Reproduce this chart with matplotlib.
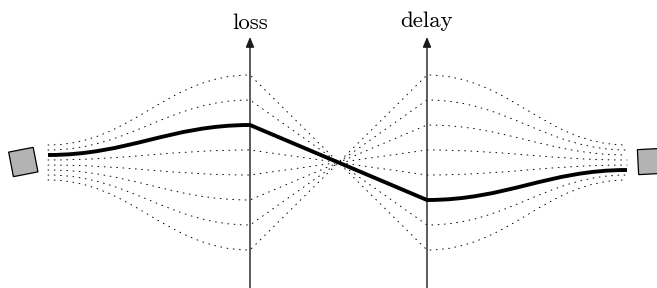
import matplotlib
matplotlib.use("Agg")
import matplotlib.pyplot as plt
from matplotlib.path import Path
from matplotlib.patches import PathPatch, Rectangle
from matplotlib.transforms import Affine2D, ScaledTranslation

plt.rcParams["lines.scale_dashes"] = False

# one entry per candidate route: where it starts, its loss, its delay, where it ends
left_levels = [5.2, 5.0, 4.8, 4.6, 4.4, 4.2, 4.0, 3.8]
loss_levels = [8, 7, 6, 5, 4, 3, 2, 1]
delay_levels = [1, 2, 3, 4, 5, 6, 7, 8]
right_levels = [3.8, 4.0, 4.2, 4.4, 4.6, 4.8, 5.0, 5.2]
chosen = 2  # the highlighted route
axis_names = ["loss", "delay"]

# layout (x in pixels, y in "level" units)
X_LEFT, X_LOSS, X_DELAY, X_RIGHT = 48, 250, 427, 627
Y_MIN, Y_MAX = -0.52, 11.0
AXIS_TOP = 9.52

fig = plt.figure(figsize=(6.57, 2.88), dpi=100)
ax = fig.add_axes([0, 0, 1, 1])
ax.set_xlim(0, 657)
ax.set_ylim(Y_MIN, Y_MAX)
ax.axis("off")

px_per_level = 288 / (Y_MAX - Y_MIN)


def bezier_h(x0, y0, x1, y1):
    """Cubic curve leaving and entering horizontally, like TikZ out=0,in=180."""
    dist = ((x1 - x0) ** 2 + ((y1 - y0) * px_per_level) ** 2) ** 0.5
    k = 0.3915 * dist
    return [(x0, y0), (x0 + k, y0), (x1 - k, y1), (x1, y1)]


def route_path(i):
    a = bezier_h(X_LEFT, left_levels[i], X_LOSS, loss_levels[i])
    b = bezier_h(X_DELAY, delay_levels[i], X_RIGHT, right_levels[i])
    verts = a + [(X_DELAY, delay_levels[i])] + b[1:]
    codes = ([Path.MOVETO] + [Path.CURVE4] * 3 + [Path.LINETO] + [Path.CURVE4] * 3)
    return Path(verts, codes)


for i in range(len(loss_levels)):
    if i == chosen:
        continue
    ax.add_patch(PathPatch(route_path(i), facecolor="none", edgecolor="black",
                           lw=0.7, linestyle=(0, (0.6, 3.9)), capstyle="round"))

ax.add_patch(PathPatch(route_path(chosen), facecolor="none", edgecolor="black",
                       lw=2.8, capstyle="butt", joinstyle="miter", zorder=4))

# the two metric axes
for x, name, base in zip([X_LOSS, X_DELAY], axis_names, [9.84, 9.92]):
    ax.annotate("", xy=(x, AXIS_TOP), xytext=(x, Y_MIN - 0.2),
                arrowprops=dict(arrowstyle="-|>,head_length=0.6,head_width=0.25",
                                lw=1.0, color="#1a1a1a", shrinkA=0, shrinkB=0),
                zorder=3)
    ax.text(x, base, name, ha="center", va="baseline", fontsize=16.5,
            family="cmr10", color="black")

# end nodes
for cx, cy, rot in [(23.3, 4.52, 11), (650.5, 4.54, 3)]:
    tr = (Affine2D().scale(12.5).rotate_deg(rot)
          + ScaledTranslation(cx, cy, ax.transData))
    ax.add_patch(Rectangle((-1, -1), 2, 2, transform=tr, facecolor="#b3b3b3",
                           edgecolor="black", lw=0.9, zorder=5))

fig.savefig("out.png", dpi=100)
